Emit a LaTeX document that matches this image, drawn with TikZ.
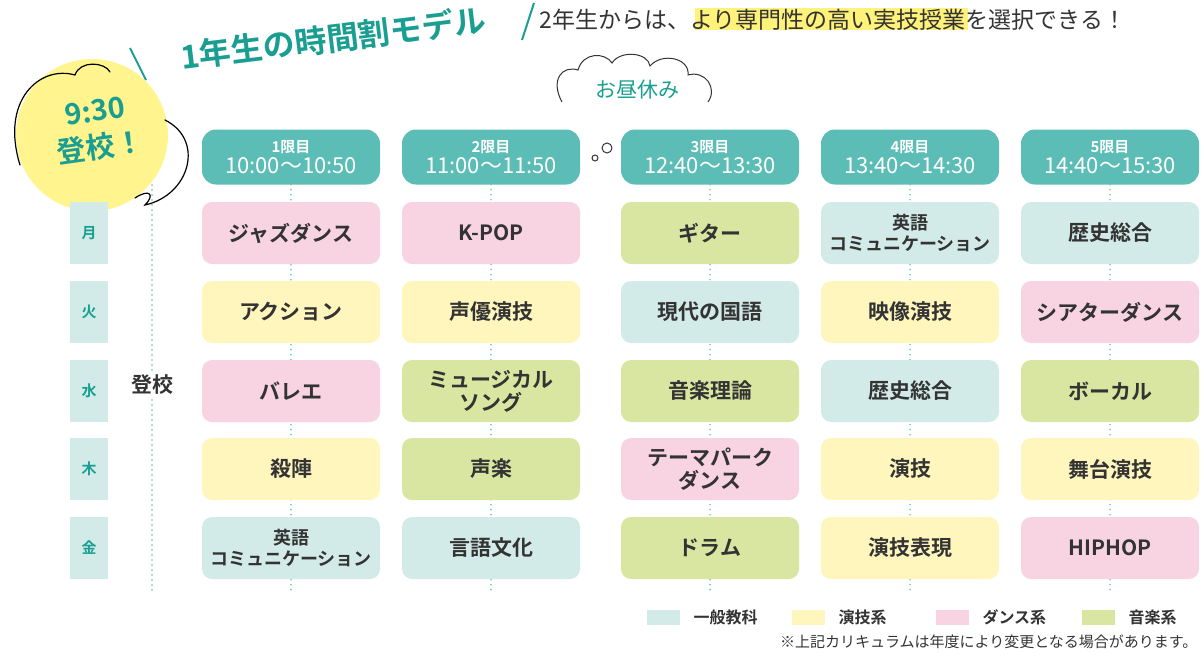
\documentclass[tikz,border=0pt]{standalone}
\usepackage{fontspec}
\setmainfont{Noto Sans CJK JP}
\newfontfamily\jpb{Noto Sans CJK JP}[BoldFont={* Bold}]
\definecolor{gen}{HTML}{D3EBE8}
\definecolor{act}{HTML}{FFF6BE}
\definecolor{dan}{HTML}{F8D3E2}
\definecolor{mus}{HTML}{D9E6A1}
\definecolor{head}{HTML}{5BBDB5}
\definecolor{teal}{HTML}{1A9E92}
\definecolor{hl}{HTML}{FFF27A}
\definecolor{txt}{HTML}{333333}
\begin{document}
\begin{tikzpicture}[x=1pt,y=-1pt,
  cell/.style={rounded corners=10pt,minimum width=178pt,minimum height=62pt,inner sep=0pt,align=center,font=\jpb\bfseries\fontsize{21}{23}\selectfont,text=txt},
  G/.style={cell,fill=gen},A/.style={cell,fill=act},D/.style={cell,fill=dan},M/.style={cell,fill=mus},
  sm/.style={font=\jpb\bfseries\fontsize{18}{21}\selectfont},
  hd/.style={rounded corners=14pt,fill=head,minimum width=178pt,minimum height=55pt,inner sep=0pt,align=center,text=white,font=\jpb},
  day/.style={fill=gen,minimum width=38pt,minimum height=62pt,inner sep=0pt,text=teal,font=\jpb\bfseries\fontsize{15}{15}\selectfont},
  dots/.style={head,line width=1.6pt,dash pattern=on 0pt off 5pt,line cap=round},
  lg/.style={minimum width=33pt,minimum height=15pt,inner sep=0pt},
  lt/.style={anchor=west,font=\jpb\bfseries\fontsize{16}{16}\selectfont,text=txt}]
\useasboundingbox (0,0) rectangle (1201,654);
% yellow blob
\fill[hl!85] (92,135) circle (76pt);
\draw[black,line width=1.2pt,line cap=round] (20,165) .. controls (0,100) and (40,65) .. (75,75) .. controls (80,60) and (105,62) .. (110,72);
\draw[black,line width=1.2pt,line cap=round] (165,120) .. controls (205,140) and (190,195) .. (145,205) .. controls (155,195) and (150,188) .. (135,198);
\node[rotate=8,text=teal,font=\jpb\bfseries\fontsize{29}{36}\selectfont,align=center] (st) at (98,130) {9:30\\登校！};
% title
\draw[teal,line width=2pt] (130,48) -- (146,80);
\node[rotate=7,text=teal,font=\jpb\bfseries\fontsize{32}{34}\selectfont] (title) at (333,38) {1年生の時間割モデル};
\draw[teal,line width=2pt] (534,3) -- (522,40);
\fill[hl] (695,8) rectangle (968,30);
\node[anchor=west,font=\fontsize{23}{24}\selectfont,text=txt] (sub) at (536,20) {2年生からは、より専門性の高い実技授業を選択できる！};
% cloud
\draw[black!80,line width=1pt,fill=white] (562,102) .. controls (550,80) and (562,65) .. (578,70) .. controls (583,52) and (605,52) .. (612,63) .. controls (620,50) and (648,52) .. (650,66) .. controls (662,52) and (690,58) .. (688,75) .. controls (705,70) and (718,88) .. (708,102);
\node[text=teal,font=\fontsize{21}{21}\selectfont] (lunch) at (637,90) {お昼休み};
\draw[black!80,line width=1pt] (607,148) circle (5pt) (595,158) circle (3pt);
% headers
\foreach \x/\n/\t [count=\i] in {291/1/10:00〜10:50,491/2/11:00〜11:50,710/3/12:40〜13:30,910/4/13:40〜14:30,1110/5/14:40〜15:30}{
  \node[hd] (h\i) at (\x,157) {{\bfseries\fontsize{15}{16}\selectfont \n 限目}\\[3pt]{\fontsize{22}{23}\selectfont \t}};
  \coordinate (e\i) at (\x,592);
  \draw[dots] (h\i.south) -- (e\i);
}
\coordinate (t1) at (152,185); \coordinate (t2) at (152,592);
\draw[dots] (t1) -- (t2);
\node[fill=white,inner sep=2pt,font=\jpb\bfseries\fontsize{21}{22}\selectfont,text=txt] (tk) at (152,385) {登校};
% days
\foreach \d/\y in {月/233,火/312,水/391,木/469,金/548}{\node[day] (d\d) at (89,\y) {\d};}
% cells
\node[D] (c11) at (291,233) {ジャズダンス};
\node[D] (c12) at (491,233) {K-POP};
\node[M] (c13) at (710,233) {ギター};
\node[G,sm] (c14) at (910,233) {英語\\コミュニケーション};
\node[G] (c15) at (1110,233) {歴史総合};
\node[A] (c21) at (291,312) {アクション};
\node[A] (c22) at (491,312) {声優演技};
\node[G] (c23) at (710,312) {現代の国語};
\node[A] (c24) at (910,312) {映像演技};
\node[D] (c25) at (1110,312) {シアターダンス};
\node[D] (c31) at (291,391) {バレエ};
\node[M] (c32) at (491,391) {ミュージカル\\ソング};
\node[M] (c33) at (710,391) {音楽理論};
\node[G] (c34) at (910,391) {歴史総合};
\node[M] (c35) at (1110,391) {ボーカル};
\node[A] (c41) at (291,469) {殺陣};
\node[M] (c42) at (491,469) {声楽};
\node[D] (c43) at (710,469) {テーマパーク\\ダンス};
\node[A] (c44) at (910,469) {演技};
\node[A] (c45) at (1110,469) {舞台演技};
\node[G,sm] (c51) at (291,548) {英語\\コミュニケーション};
\node[G] (c52) at (491,548) {言語文化};
\node[M] (c53) at (710,548) {ドラム};
\node[A] (c54) at (910,548) {演技表現};
\node[D] (c55) at (1110,548) {HIPHOP};
% legend
\node[lg,fill=gen] (l1) at (663,617) {}; \node[lt] (lt1) at (690,617) {一般教科};
\node[lg,fill=act] (l2) at (808,617) {}; \node[lt] (lt2) at (835,617) {演技系};
\node[lg,fill=dan] (l3) at (952,617) {}; \node[lt] (lt3) at (979,617) {ダンス系};
\node[lg,fill=mus] (l4) at (1098,617) {}; \node[lt] (lt4) at (1125,617) {音楽系};
\node[anchor=east,font=\fontsize{15}{15}\selectfont,text=txt] (note) at (1201,642) {※上記カリキュラムは年度により変更となる場合があります。};
\end{tikzpicture}
\end{document}
